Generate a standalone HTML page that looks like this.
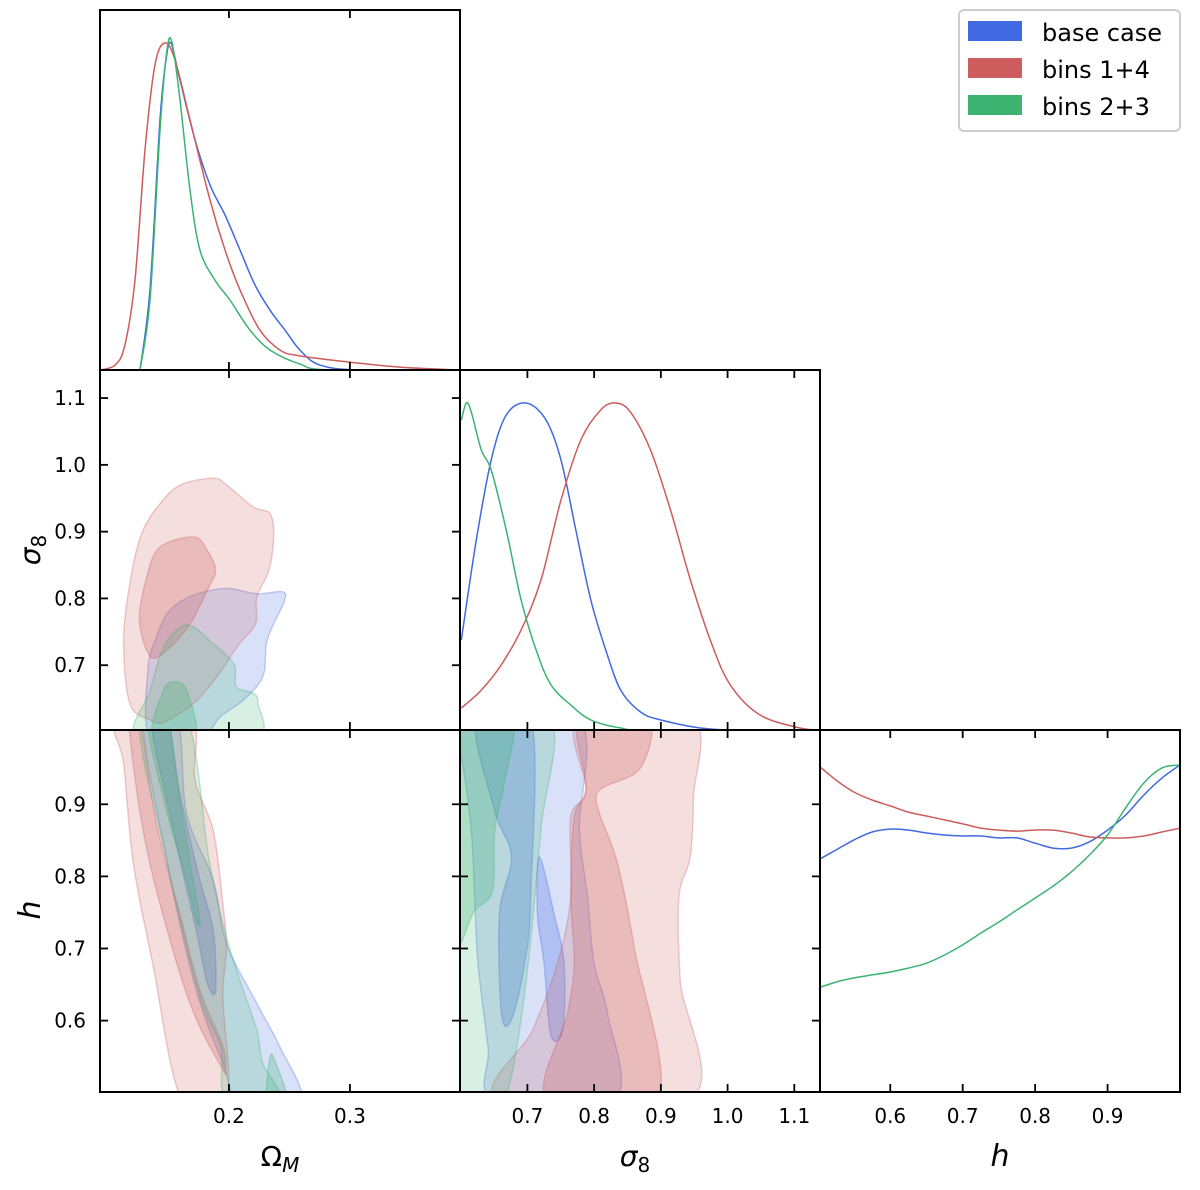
<!DOCTYPE html>
<html><head><meta charset="utf-8">
<style>
html,body{margin:0;padding:0;background:#fff;}
svg{display:block;font-family:"DejaVu Sans","Liberation Sans",sans-serif;}
</style></head>
<body>
<svg id="fig" width="1200" height="1190" viewBox="0 0 1200 1190" xmlns="http://www.w3.org/2000/svg">
<defs>
<clipPath id="c10"><rect x="100" y="370" width="360" height="360"/></clipPath>
<clipPath id="c20"><rect x="100" y="730" width="360" height="362"/></clipPath>
<clipPath id="c21"><rect x="460" y="730" width="360" height="362"/></clipPath>
<clipPath id="c00"><rect x="100" y="10" width="360" height="360"/></clipPath>
<clipPath id="c11"><rect x="460" y="370" width="360" height="360"/></clipPath>
<clipPath id="c22"><rect x="820" y="730" width="360" height="362"/></clipPath>
</defs>
<g id="layer"></g>
<g>
<rect x="959" y="10" width="221" height="121" rx="5" fill="#fff" stroke="#ccc" stroke-width="2"/>
<rect x="968" y="21" width="54" height="20" fill="#4169e1"/>
<text x="1042" y="41" font-size="24">base case</text>
<rect x="968" y="58" width="54" height="20" fill="#cd5c5c"/>
<text x="1042" y="78" font-size="24">bins 1+4</text>
<rect x="968" y="95" width="54" height="20" fill="#3cb371"/>
<text x="1042" y="115" font-size="24">bins 2+3</text>
</g>
<text x="280" y="1166" font-size="28" text-anchor="middle">Ω<tspan font-size="20" font-style="italic" dy="6">M</tspan></text>
<text x="635" y="1166" font-size="28" font-style="italic" text-anchor="middle">σ<tspan font-size="20" font-style="normal" dy="6">8</tspan></text>
<text x="1000" y="1166" font-size="30" font-style="italic" text-anchor="middle">h</text>
<text transform="translate(40,550) rotate(-90)" font-size="28" font-style="italic" text-anchor="middle">σ<tspan font-size="20" font-style="normal" dy="6">8</tspan></text>
<text transform="translate(40,910) rotate(-90)" font-size="30" font-style="italic" text-anchor="middle">h</text>
</svg>
<script>
// ---- data ----
const omTicks = [0.2, 0.3];
const s8Ticks = [0.7, 0.8, 0.9, 1.0, 1.1];
const hTicks = [0.6, 0.7, 0.8, 0.9];
const s8TickLabels = ["0.7","0.8","0.9","1.0","1.1"];
const hTickLabels = ["0.6","0.7","0.8","0.9"];
const omTickLabels = ["0.2","0.3"];

// 1D marginals: Omega_M
const omGridBlue = [0.1265,0.1347,0.143,0.148,0.152,0.1595,0.172,0.1843,0.1967,0.2091,0.2215,0.2339,0.2463,0.2587,0.2752,0.3083,0.391];
const omDensBlue = [0,0.245,0.765,0.948,1,0.887,0.703,0.566,0.474,0.367,0.26,0.183,0.122,0.061,0.015,0,0];
const omGridRed = [0.0934,0.1058,0.114,0.1223,0.1306,0.1389,0.147,0.1554,0.1678,0.1843,0.1967,0.2091,0.2256,0.2422,0.2587,0.3,0.341,0.391];
const omDensRed = [0,0.015,0.076,0.275,0.673,0.933,1,0.948,0.765,0.52,0.367,0.245,0.122,0.061,0.043,0.024,0.009,0];
const omGridGreen = [0.1265,0.1347,0.143,0.1488,0.153,0.1595,0.1678,0.176,0.1884,0.2008,0.2174,0.234,0.2587,0.2835,0.391];
const omDensGreen = [0,0.214,0.734,0.979,1,0.826,0.55,0.367,0.275,0.214,0.122,0.061,0.018,0,0];

// 1D marginals: sigma8
const s8GridBlue = [0.601,0.6234,0.6458,0.6682,0.698,0.7279,0.7503,0.7726,0.795,0.8174,0.8398,0.8697,0.8995,0.9592,1.019,1.138];
const s8DensBlue = [0.275,0.581,0.826,0.963,1,0.948,0.826,0.612,0.398,0.245,0.122,0.055,0.031,0.006,0,0];
const s8GridRed = [0.601,0.6309,0.6607,0.6906,0.7204,0.7503,0.7801,0.81,0.8323,0.8547,0.8846,0.9144,0.9443,0.9741,1.004,1.0488,1.1085,1.138];
const s8DensRed = [0.067,0.122,0.199,0.306,0.459,0.703,0.887,0.979,1,0.972,0.856,0.673,0.459,0.275,0.138,0.046,0.006,0];
const s8GridGreen = [0.601,0.6085,0.6159,0.6309,0.6458,0.6682,0.6906,0.713,0.7353,0.7652,0.795,0.8398,0.8846,1.138];
const s8DensGreen = [0.948,1,0.972,0.856,0.795,0.612,0.398,0.245,0.138,0.076,0.031,0.006,0,0];

// 1D marginals: h
const hGrid = [0.50,0.525,0.55,0.575,0.60,0.625,0.65,0.675,0.70,0.725,0.75,0.775,0.80,0.825,0.85,0.875,0.90,0.925,0.95,0.975,1.0];
const hDensBlue = [0.709,0.74,0.771,0.795,0.804,0.801,0.792,0.786,0.783,0.783,0.777,0.777,0.761,0.746,0.746,0.765,0.801,0.847,0.908,0.96,1.0];
const hDensRed = [1.0,0.954,0.917,0.893,0.875,0.856,0.844,0.832,0.82,0.807,0.801,0.798,0.801,0.801,0.792,0.78,0.777,0.777,0.783,0.795,0.807];
const hDensGreen = [0.318,0.336,0.349,0.358,0.367,0.379,0.394,0.419,0.45,0.486,0.52,0.557,0.593,0.63,0.673,0.725,0.786,0.869,0.945,0.991,1.0];

// 2D contours (Omega_M, sigma8): [x, y] data pairs
const omS8RedOuter = [[0.135,0.618],[0.118,0.643],[0.113,0.742],[0.120,0.842],[0.129,0.902],[0.143,0.942],[0.160,0.970],[0.187,0.980],[0.198,0.970],[0.220,0.937],[0.234,0.927],[0.237,0.892],[0.233,0.842],[0.223,0.802],[0.222,0.762],[0.209,0.733],[0.190,0.683],[0.171,0.643],[0.146,0.615]];
const omS8RedInner = [[0.135,0.713],[0.126,0.767],[0.132,0.832],[0.143,0.877],[0.171,0.892],[0.182,0.872],[0.189,0.842],[0.182,0.812],[0.168,0.762],[0.149,0.723]];
const omS8BlueOuter = [[0.135,0.590],[0.133,0.693],[0.140,0.742],[0.151,0.782],[0.171,0.805],[0.198,0.815],[0.223,0.807],[0.244,0.810],[0.246,0.797],[0.237,0.762],[0.231,0.733],[0.228,0.683],[0.212,0.648],[0.193,0.623],[0.176,0.590]];
const omS8GreenOuter = [[0.126,0.590],[0.135,0.663],[0.146,0.727],[0.160,0.757],[0.171,0.757],[0.184,0.737],[0.204,0.702],[0.206,0.668],[0.220,0.658],[0.224,0.643],[0.221,0.590]];
const omS8GreenInner = [[0.137,0.590],[0.146,0.663],[0.157,0.675],[0.166,0.658],[0.172,0.590]];

// 2D contours (Omega_M, h)
const omHRedOuter = [[0.107,1.02],[0.113,0.956],[0.121,0.818],[0.137,0.679],[0.161,0.49],[0.198,0.49],[0.195,0.633],[0.198,0.702],[0.195,0.762],[0.187,0.864],[0.172,0.933],[0.168,1.02]];
const omHRedInner = [[0.117,1.02],[0.129,0.864],[0.149,0.725],[0.171,0.610],[0.195,0.532],[0.197,0.532],[0.195,0.564],[0.176,0.642],[0.160,0.744],[0.140,0.873],[0.126,1.02]];
const omHBlueOuter = [[0.129,1.02],[0.149,0.818],[0.173,0.642],[0.195,0.541],[0.209,0.49],[0.259,0.49],[0.242,0.564],[0.223,0.624],[0.198,0.707],[0.187,0.795],[0.165,0.887],[0.157,1.02]];
const omHBlueInner = [[0.135,1.02],[0.154,0.864],[0.173,0.725],[0.182,0.652],[0.189,0.642],[0.187,0.725],[0.176,0.795],[0.160,0.910],[0.149,1.02]];
const omHGreenOuter = [[0.126,1.02],[0.149,0.818],[0.176,0.633],[0.193,0.564],[0.198,0.49],[0.242,0.49],[0.228,0.541],[0.223,0.587],[0.209,0.656],[0.198,0.716],[0.184,0.818],[0.165,1.02]];
const omHGreenInner = [[0.132,1.02],[0.149,0.887],[0.165,0.795],[0.173,0.739],[0.176,0.740],[0.168,0.818],[0.157,0.933],[0.149,1.02]];
const omHGreenInner2 = [[0.232,0.49],[0.234,0.550],[0.239,0.540],[0.248,0.49]];

// 2D contours (sigma8, h)
const s8HRedOuter = [[0.778,1.02],[0.788,0.919],[0.765,0.882],[0.765,0.771],[0.745,0.679],[0.708,0.587],[0.658,0.49],[0.944,0.49],[0.929,0.656],[0.927,0.771],[0.944,0.827],[0.949,0.910],[0.947,1.02]];
const s8HRedInner = [[0.778,1.02],[0.788,0.924],[0.770,0.882],[0.765,0.771],[0.770,0.679],[0.760,0.610],[0.730,0.49],[0.895,0.49],[0.860,0.702],[0.835,0.818],[0.810,0.882],[0.803,0.910],[0.815,0.924],[0.870,0.951],[0.880,1.02]];
const s8HBlueOuter = [[0.590,1.02],[0.603,0.956],[0.616,0.864],[0.621,0.772],[0.626,0.679],[0.641,0.564],[0.651,0.49],[0.830,0.49],[0.820,0.610],[0.800,0.679],[0.790,0.772],[0.778,0.864],[0.775,1.02]];
const s8HBlueInner = [[0.623,1.02],[0.651,0.891],[0.676,0.827],[0.658,0.748],[0.661,0.610],[0.676,0.601],[0.696,0.679],[0.705,0.771],[0.705,1.02]];
const s8HBlueInner2 = [[0.718,0.827],[0.740,0.748],[0.755,0.679],[0.753,0.587],[0.735,0.580],[0.725,0.679],[0.715,0.748]];
const s8HGreenOuter = [[0.590,1.02],[0.733,1.02],[0.720,0.864],[0.700,0.670],[0.676,0.523],[0.655,0.49],[0.590,0.49]];
const s8HGreenInner = [[0.590,1.02],[0.676,1.02],[0.666,0.933],[0.651,0.864],[0.648,0.781],[0.621,0.753],[0.590,0.716]];

// ---- rendering ----
const NS = "http://www.w3.org/2000/svg";
const layer = document.getElementById('layer');
const BLUE = "#4169e1", RED = "#cd5c5c", GREEN = "#3cb371";
function lin(d0,d1,r0,r1){ return v => r0 + (v-d0)/(d1-d0)*(r1-r0); }
const xOm = lin(0.0934,0.391,100,460);
const xS8 = lin(0.599,1.1385,460,820);
const xH = lin(0.503,1.0,820,1180);
const yS8 = lin(0.603,1.142,730,370);
const yH = lin(0.501,1.003,1092,730);
const yD0 = lin(0,1,370,43);
const yD1 = lin(0,1,730,403);
const yD2 = lin(0,1,1092,765);

function smooth(pts, closed){
  const n = pts.length; let d = "M"+pts[0][0].toFixed(1)+","+pts[0][1].toFixed(1);
  const get = i => closed ? pts[(i+n)%n] : pts[Math.max(0,Math.min(n-1,i))];
  const segs = closed ? n : n-1;
  for(let i=0;i<segs;i++){
    const p0=get(i-1),p1=get(i),p2=get(i+1),p3=get(i+2);
    const c1=[p1[0]+(p2[0]-p0[0])/6,p1[1]+(p2[1]-p0[1])/6];
    const c2=[p2[0]-(p3[0]-p1[0])/6,p2[1]-(p3[1]-p1[1])/6];
    d+="C"+c1[0].toFixed(1)+","+c1[1].toFixed(1)+" "+c2[0].toFixed(1)+","+c2[1].toFixed(1)+" "+p2[0].toFixed(1)+","+p2[1].toFixed(1);
  }
  return closed ? d+"Z" : d;
}
function group(clip){ const g=document.createElementNS(NS,'g'); if(clip) g.setAttribute('clip-path','url(#'+clip+')'); layer.appendChild(g); return g; }
function contour(g, data, fx, fy, color, inner, name){
  const p=document.createElementNS(NS,'path');
  p.setAttribute('d', smooth(data.map(d=>[fx(d[0]),fy(d[1])]), true));
  p.setAttribute('fill', color);
  p.setAttribute('fill-opacity', inner?0.27:0.2);
  p.setAttribute('stroke', color);
  p.setAttribute('stroke-opacity', 0.3);
  p.setAttribute('stroke-width', 1.5);
  
  
  g.appendChild(p);
}
function curve(g, xs, ys, fx, fy, color, name){
  const p=document.createElementNS(NS,'path');
  p.setAttribute('d', smooth(xs.map((x,i)=>[fx(x),fy(ys[i])]), false));
  p.setAttribute('fill','none');
  p.setAttribute('stroke',color);
  p.setAttribute('stroke-width',1.5);
  
  
  g.appendChild(p);
}

// panel (sigma8 vs Omega_M)
let g = group('c10');
contour(g, omS8BlueOuter, xOm, yS8, BLUE, false, 'contour-base-om-s8-outer');
contour(g, omS8RedOuter, xOm, yS8, RED, false, 'contour-bins14-om-s8-outer');
contour(g, omS8RedInner, xOm, yS8, RED, true, 'contour-bins14-om-s8-inner');
contour(g, omS8GreenOuter, xOm, yS8, GREEN, false, 'contour-bins23-om-s8-outer');
contour(g, omS8GreenInner, xOm, yS8, GREEN, true, 'contour-bins23-om-s8-inner');
// panel (h vs Omega_M)
g = group('c20');
contour(g, omHBlueOuter, xOm, yH, BLUE, false, 'contour-base-om-h-outer');
contour(g, omHBlueInner, xOm, yH, BLUE, true, 'contour-base-om-h-inner');
contour(g, omHRedOuter, xOm, yH, RED, false, 'contour-bins14-om-h-outer');
contour(g, omHRedInner, xOm, yH, RED, true, 'contour-bins14-om-h-inner');
contour(g, omHGreenOuter, xOm, yH, GREEN, false, 'contour-bins23-om-h-outer');
contour(g, omHGreenInner, xOm, yH, GREEN, true, 'contour-bins23-om-h-inner');
contour(g, omHGreenInner2, xOm, yH, GREEN, true, 'contour-bins23-om-h-inner-2');
// panel (h vs sigma8)
g = group('c21');
contour(g, s8HBlueOuter, xS8, yH, BLUE, false, 'contour-base-s8-h-outer');
contour(g, s8HBlueInner, xS8, yH, BLUE, true, 'contour-base-s8-h-inner');
contour(g, s8HBlueInner2, xS8, yH, BLUE, true, 'contour-base-s8-h-inner-2');
contour(g, s8HRedOuter, xS8, yH, RED, false, 'contour-bins14-s8-h-outer');
contour(g, s8HRedInner, xS8, yH, RED, true, 'contour-bins14-s8-h-inner');
contour(g, s8HGreenOuter, xS8, yH, GREEN, false, 'contour-bins23-s8-h-outer');
contour(g, s8HGreenInner, xS8, yH, GREEN, true, 'contour-bins23-s8-h-inner');
// diagonals
g = group('c00');
curve(g, omGridBlue, omDensBlue, xOm, yD0, BLUE, 'marginal-base-om');
curve(g, omGridRed, omDensRed, xOm, yD0, RED, 'marginal-bins14-om');
curve(g, omGridGreen, omDensGreen, xOm, yD0, GREEN, 'marginal-bins23-om');
g = group('c11');
curve(g, s8GridBlue, s8DensBlue, xS8, yD1, BLUE, 'marginal-base-s8');
curve(g, s8GridRed, s8DensRed, xS8, yD1, RED, 'marginal-bins14-s8');
curve(g, s8GridGreen, s8DensGreen, xS8, yD1, GREEN, 'marginal-bins23-s8');
g = group('c22');
curve(g, hGrid, hDensBlue, xH, yD2, BLUE, 'marginal-base-h');
curve(g, hGrid, hDensRed, xH, yD2, RED, 'marginal-bins14-h');
curve(g, hGrid, hDensGreen, xH, yD2, GREEN, 'marginal-bins23-h');

// frames and ticks
const axg = group(null);
function line(x1,y1,x2,y2,w){ const l=document.createElementNS(NS,'line'); l.setAttribute('x1',x1);l.setAttribute('y1',y1);l.setAttribute('x2',x2);l.setAttribute('y2',y2);l.setAttribute('stroke','#000');l.setAttribute('stroke-width',w); axg.appendChild(l); return l; }
function label(x,y,t,anchor,name){ const e=document.createElementNS(NS,'text'); e.setAttribute('x',x);e.setAttribute('y',y);e.setAttribute('font-size','20');e.setAttribute('text-anchor',anchor);e.textContent=t;
  
  
  axg.appendChild(e); }
function panel(x0,y0,w,h,xt,fx,yt,fy,name){
  const r=document.createElementNS(NS,'rect'); r.setAttribute('x',x0);r.setAttribute('y',y0);r.setAttribute('width',w);r.setAttribute('height',h);r.setAttribute('fill','none');r.setAttribute('stroke','#000');r.setAttribute('stroke-width',2);
  
  
  axg.appendChild(r);
  (xt||[]).forEach(v=>{ const x=fx(v); line(x,y0+h,x,y0+h-8,1.8); line(x,y0,x,y0+8,1.8); });
  (yt||[]).forEach(v=>{ const y=fy(v); line(x0,y,x0+8,y,1.8); line(x0+w,y,x0+w-8,y,1.8); });
}
panel(100,10,360,360,omTicks,xOm,null,null,'panel-om-marginal');
panel(100,370,360,360,omTicks,xOm,s8Ticks,yS8,'panel-om-s8');
panel(100,730,360,362,omTicks,xOm,hTicks,yH,'panel-om-h');
panel(460,370,360,360,s8Ticks,xS8,null,null,'panel-s8-marginal');
panel(460,730,360,362,s8Ticks,xS8,hTicks,yH,'panel-s8-h');
panel(820,730,360,362,hTicks,xH,null,null,'panel-h-marginal');
s8Ticks.forEach((v,i)=>label(86,yS8(v)+7,s8TickLabels[i],'end','y-tick-s8-'+s8TickLabels[i]));
hTicks.forEach((v,i)=>label(86,yH(v)+7,hTickLabels[i],'end','y-tick-h-'+hTickLabels[i]));
omTicks.forEach((v,i)=>label(xOm(v),1123,omTickLabels[i],'middle','x-tick-om-'+omTickLabels[i]));
s8Ticks.forEach((v,i)=>label(xS8(v),1123,s8TickLabels[i],'middle','x-tick-s8-'+s8TickLabels[i]));
hTicks.forEach((v,i)=>label(xH(v),1123,hTickLabels[i],'middle','x-tick-h-'+hTickLabels[i]));
</script>
</body></html>
